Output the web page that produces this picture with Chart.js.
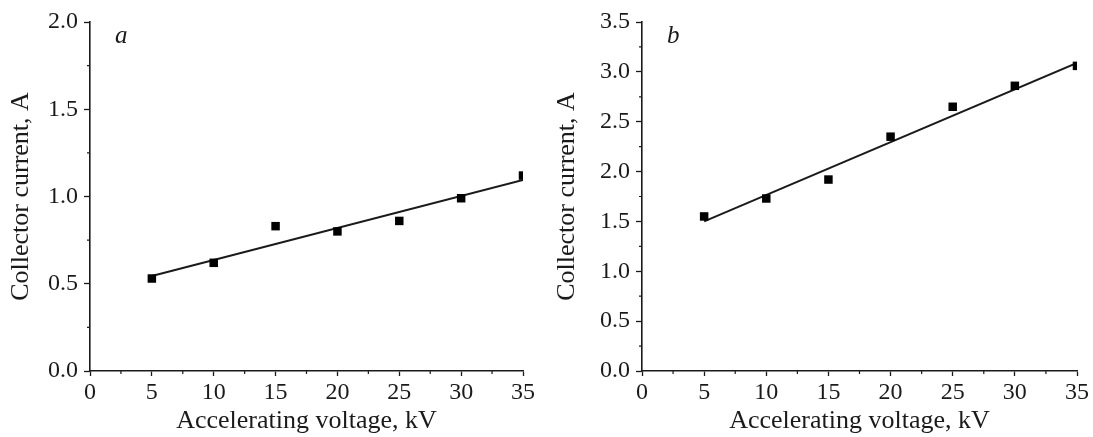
<!DOCTYPE html>
<html>
<head>
<meta charset="utf-8">
<script src="https://cdn.jsdelivr.net/npm/chart.js@4.4.1/dist/chart.umd.min.js"></script>
<style>
  html, body { margin: 0; padding: 0; background: #fff; }
  .wrap { display: flex; width: 1093px; height: 437px; }
  .panel { position: relative; height: 437px; }
</style>
</head>
<body>
<div class="wrap">
  <div class="panel" style="width:546px"><canvas id="chartA" width="546" height="437"></canvas></div>
  <div class="panel" style="width:547px"><canvas id="chartB" width="547" height="437"></canvas></div>
</div>
<script>
// values
const voltage = [5, 10, 15, 20, 25, 30, 35];
const currentA = [0.53, 0.62, 0.83, 0.80, 0.86, 0.99, 1.12];
const currentB = [1.55, 1.73, 1.92, 2.35, 2.65, 2.86, 3.06];
const fitVoltage = [5, 35];
const fitA = [0.544, 1.095];
const fitB = [1.50, 3.09];
const xTicks = [0, 5, 10, 15, 20, 25, 30, 35];
const yMaxA = 2.0;
const yMaxB = 3.5;

const ink = "#1a1a1a";
const serif = "'Liberation Serif', 'Times New Roman', serif";

// small ticks between the labelled ones
const minorTicks = {
  id: "minorTicks",
  afterDraw(chart) {
    const { ctx, scales: { x, y } } = chart;
    ctx.save();
    ctx.strokeStyle = ink;
    ctx.lineWidth = 1.2;
    ctx.beginPath();
    for (let v = 2.5; v < x.max; v += 5) {
      const px = x.getPixelForValue(v);
      ctx.moveTo(px, y.bottom);
      ctx.lineTo(px, y.bottom + 3);
    }
    for (let v = 0.25; v < y.max; v += 0.5) {
      const py = y.getPixelForValue(v);
      ctx.moveTo(x.left, py);
      ctx.lineTo(x.left - 3, py);
    }
    ctx.stroke();
    ctx.restore();
  },
};

const panelTag = {
  id: "panelTag",
  afterDraw(chart, args, opts) {
    const { ctx, chartArea } = chart;
    ctx.save();
    ctx.fillStyle = ink;
    ctx.font = "italic 25px " + serif;
    ctx.textBaseline = "alphabetic";
    ctx.fillText(opts.text, chartArea.left + 25, chartArea.top + 21);
    ctx.restore();
  },
};

function makeChart(id, values, fit, yMax, tag, yWidth, padRight) {
  const ctx = document.getElementById(id);
  return new Chart(ctx, {
    type: "scatter",
    data: {
      datasets: [
        {
          data: voltage.map((v, i) => ({ x: v, y: values[i] })),
          pointStyle: "rect",
          pointRadius: 6,
          backgroundColor: "#000",
          borderWidth: 0,
          clip: 0,
        },
        {
          type: "line",
          data: fitVoltage.map((v, i) => ({ x: v, y: fit[i] })),
          borderColor: ink,
          borderWidth: 2,
          pointRadius: 0,
          fill: false,
        },
      ],
    },
    options: {
      responsive: false,
      animation: false,
      layout: { padding: { top: 22, right: padRight, left: 0, bottom: 0 } },
      plugins: {
        legend: { display: false },
        tooltip: { enabled: false },
        panelTag: { text: tag },
      },
      scales: {
        x: {
          type: "linear",
          min: 0,
          max: 35,
          afterBuildTicks: (s) => { s.ticks = xTicks.map((v) => ({ value: v })); },
          afterFit: (s) => { s.height = 66; },
          grid: { drawOnChartArea: false, tickLength: 5, tickColor: ink, tickWidth: 1.3 },
          border: { color: ink, width: 1.6 },
          ticks: { color: ink, font: { family: serif, size: 24 }, padding: 2 },
          title: {
            display: true,
            text: "Accelerating voltage, kV",
            color: ink,
            font: { family: serif, size: 26 },
            padding: { top: 0, bottom: 0 },
          },
        },
        y: {
          min: 0,
          max: yMax,
          afterFit: (s) => { s.width = yWidth; },
          grid: { drawOnChartArea: false, tickLength: 6, tickColor: ink, tickWidth: 1.3 },
          border: { color: ink, width: 1.6 },
          ticks: {
            stepSize: 0.5,
            color: ink,
            font: { family: serif, size: 24 },
            padding: 6,
            callback: (v) => v.toFixed(1),
          },
          title: {
            display: true,
            text: "Collector current, A",
            color: ink,
            font: { family: serif, size: 26 },
            padding: { top: 6, bottom: 2 },
          },
        },
      },
    },
    plugins: [minorTicks, panelTag],
  });
}

makeChart("chartA", currentA, fitA, yMaxA, "a", 90, 23);
makeChart("chartB", currentB, fitB, yMaxB, "b", 96, 16);
</script>
</body>
</html>
